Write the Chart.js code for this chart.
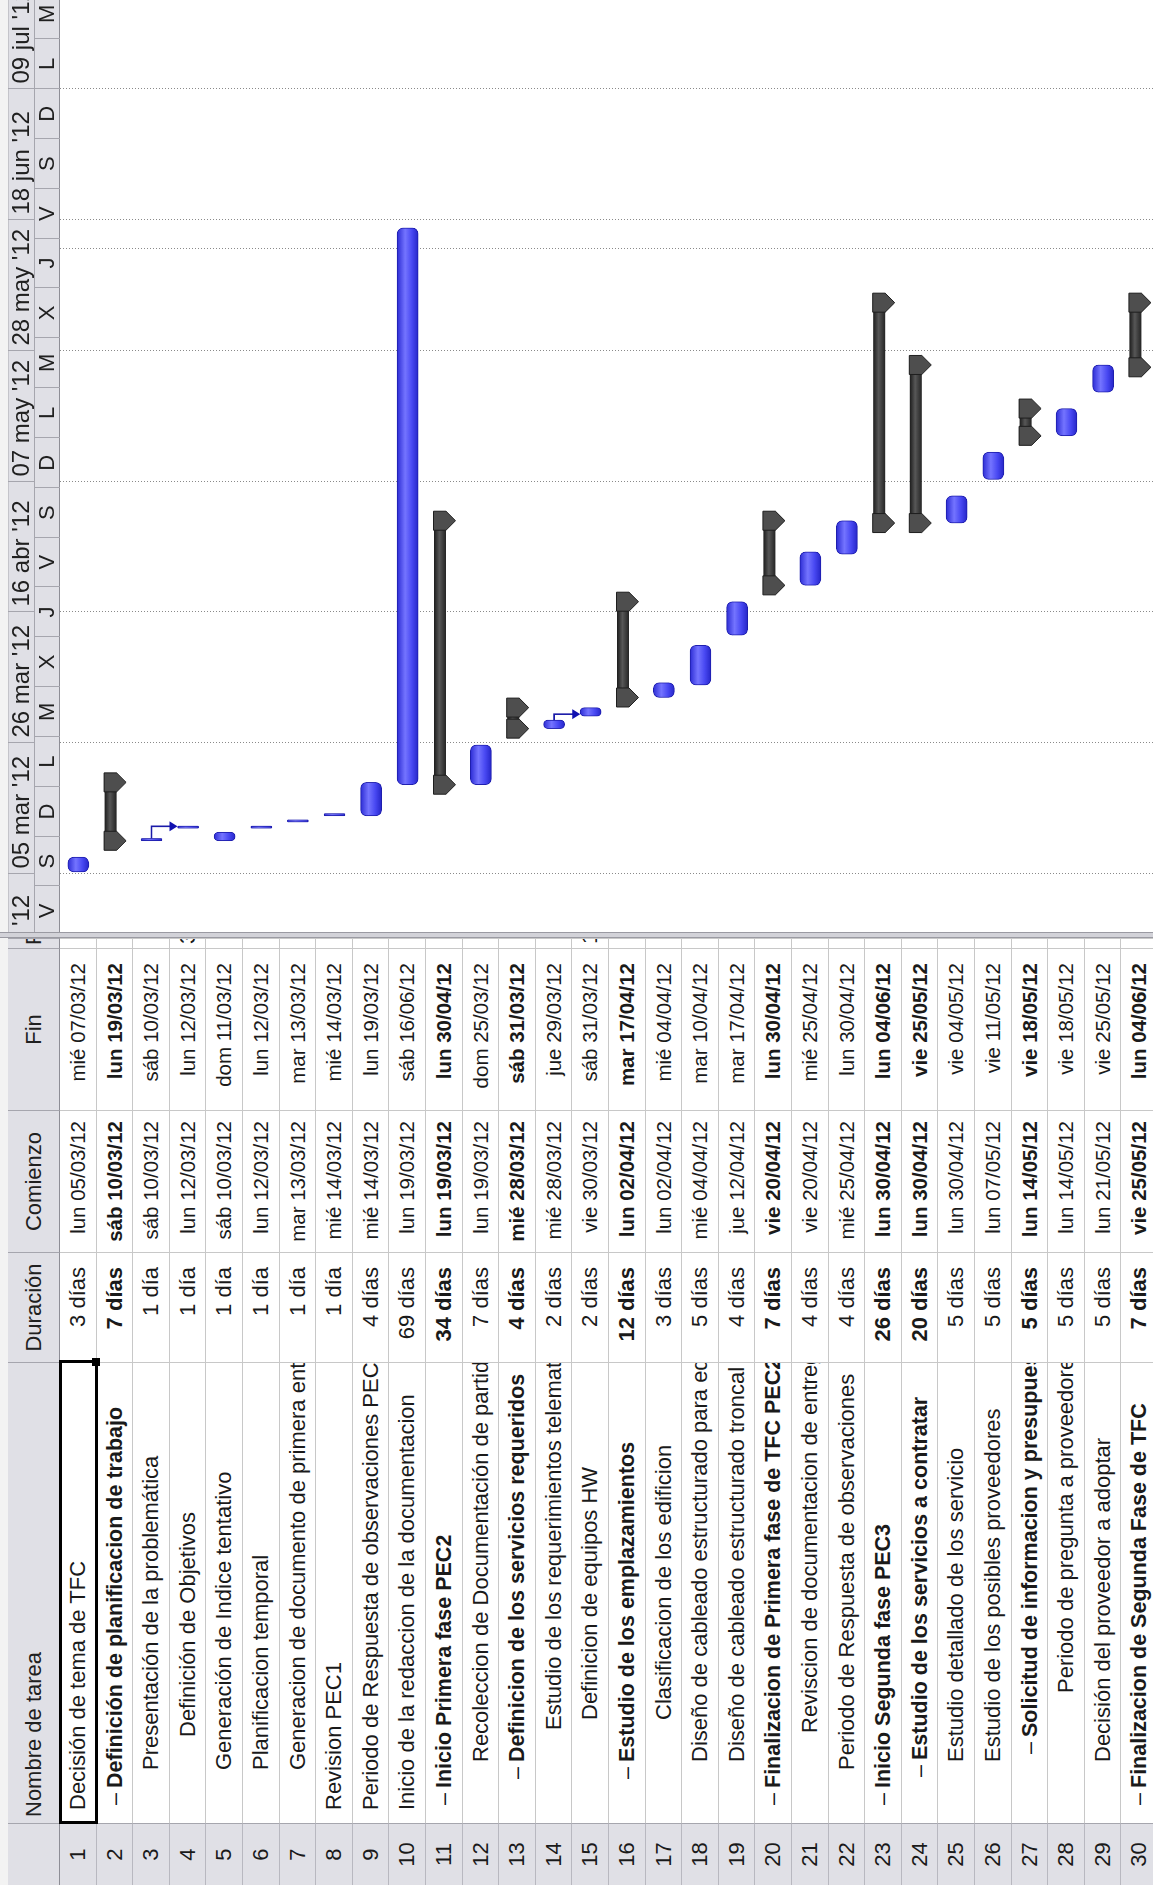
<!DOCTYPE html>
<html lang="es">
<head>
<meta charset="utf-8">
<title>Planificación TFC</title>
<script src="https://cdn.jsdelivr.net/npm/chart.js@4.4.1/dist/chart.umd.min.js"></script>
<style>
  html, body { margin:0; padding:0; width:1153px; height:1885px; overflow:hidden; background:#fff; }
  /* the project view is laid out landscape and turned a quarter turn */
  #sheet { position:absolute; left:0; top:0; width:1885px; height:1153px; overflow:hidden;
           transform-origin:0 0; transform:translateY(1885px) rotate(-90deg);
           background:#fff; font-family:"Liberation Sans", Arial, sans-serif; color:#1a1a1a; }
  .cell { position:absolute; box-sizing:border-box; white-space:nowrap; overflow:hidden;
          border-right:1px solid #c8c8c8; border-bottom:1px solid #c8c8c8; font-size:22px; }
  .head { background:#e0e0e6; border-right:1px solid #a6a6ae; border-bottom:1px solid #8e8e96;
          text-align:center; color:#202020; }
  .num  { background:#e0e0e6; text-align:center; border-right:1px solid #a6a6ae; border-bottom:1px solid #b8b8c0; }
  .bold { font-weight:bold; }
  .name.bold { font-size:21.5px; }
  .dash { position:absolute; }
  #strip { position:absolute; left:0; top:0; width:1885px; height:8px; background:#f3f3f3; }
  #split { position:absolute; left:947px; top:0; width:6px; height:1153px; background:#d2d2d8;
           border-left:1px solid #9a9aa2; border-right:1px solid #9a9aa2; box-sizing:border-box; }
  #sel { position:absolute; box-sizing:border-box; border:3px solid #000; }
  #handle { position:absolute; width:8px; height:8px; background:#000; }
  #gantt { position:absolute; left:953px; top:0; }
</style>
</head>
<body>
<div id="sheet">
  <div id="strip"></div>
  <canvas id="gantt" width="932" height="1158"></canvas>
  <div id="split"></div>
</div>
<script>
// ---------- project data ----------
const TASK_NAMES = [
  'Decisión de tema de TFC',
  'Definición de planificacion de trabajo',
  'Presentación de la problemática',
  'Definición de Objetivos',
  'Generación de Indice tentativo',
  'Planificacion temporal',
  'Generacion de documento de primera entrega',
  'Revision PEC1',
  'Periodo de Respuesta de observaciones PEC1',
  'Inicio de la redaccion de la documentacion',
  'Inicio Primera fase PEC2',
  'Recoleccion de Documentación de partida',
  'Definicion de los servicios requeridos',
  'Estudio de los requerimientos telematicos',
  'Definicion de equipos HW',
  'Estudio de los emplazamientos',
  'Clasificacion de los edificion',
  'Diseño de cableado estructurado para edificios',
  'Diseño de cableado estructurado troncal',
  'Finalizacion de Primera fase de TFC PEC2',
  'Reviscion de documentacion de entrega',
  'Periodo de Respuesta de observaciones',
  'Inicio Segunda fase PEC3',
  'Estudio de los servicios a contratar',
  'Estudio detallado de los servicio',
  'Estudio de los posibles proveedores',
  'Solicitud de informacion y presupuestos',
  'Periodo de pregunta a proveedores',
  'Decisión del proveedor a adoptar',
  'Finalizacion de Segunda Fase de TFC'
];
const DURATION_DAYS = [3, 7, 1, 1, 1, 1, 1, 1, 4, 69, 34, 7, 4, 2, 2, 12, 3, 5, 4, 7, 4, 4, 26, 20, 5, 5, 5, 5, 5, 7];
const START_DATES = [
  '2012-03-05', '2012-03-10', '2012-03-10', '2012-03-12', '2012-03-10', '2012-03-12',
  '2012-03-13', '2012-03-14', '2012-03-14', '2012-03-19', '2012-03-19', '2012-03-19',
  '2012-03-28', '2012-03-28', '2012-03-30', '2012-04-02', '2012-04-02', '2012-04-04',
  '2012-04-12', '2012-04-20', '2012-04-20', '2012-04-25', '2012-04-30', '2012-04-30',
  '2012-04-30', '2012-05-07', '2012-05-14', '2012-05-14', '2012-05-21', '2012-05-25'
];
const END_DATES = [
  '2012-03-07', '2012-03-19', '2012-03-10', '2012-03-12', '2012-03-11', '2012-03-12',
  '2012-03-13', '2012-03-14', '2012-03-19', '2012-06-16', '2012-04-30', '2012-03-25',
  '2012-03-31', '2012-03-29', '2012-03-31', '2012-04-17', '2012-04-04', '2012-04-10',
  '2012-04-17', '2012-04-30', '2012-04-25', '2012-04-30', '2012-06-04', '2012-05-25',
  '2012-05-04', '2012-05-11', '2012-05-18', '2012-05-18', '2012-05-25', '2012-06-04'
];
const SUMMARY_ROWS = [2, 11, 13, 16, 20, 23, 24, 27, 30];
const LINKS = [[3, 4], [14, 15]];               // predecessor -> successor (row numbers)
const PREDECESSORS = { 4: '3', 15: '14' };

// timescale tiers
const MAJOR_TICKS  = ['2012-02-13', '2012-03-05', '2012-03-26', '2012-04-16', '2012-05-07', '2012-05-28', '2012-06-18', '2012-07-09'];
const MAJOR_LABELS = ["13 feb '12", "05 mar '12", "26 mar '12", "16 abr '12", "07 may '12", "28 may '12", "18 jun '12", "09 jul '12"];
const MINOR_TICKS  = ['2012-02-24', '2012-03-03', '2012-03-11', '2012-03-19', '2012-03-27', '2012-04-04', '2012-04-12',
                      '2012-04-20', '2012-04-28', '2012-05-06', '2012-05-14', '2012-05-22', '2012-05-30', '2012-06-07',
                      '2012-06-15', '2012-06-23', '2012-07-01', '2012-07-09', '2012-07-17', '2012-07-25'];
const CURRENT_DATE = '2012-06-13';

// ---------- layout ----------
const ROW_TOP = 60, ROW_H = 36.6, HEAD_TOP = 8;
const WORK_START = 8 / 24, WORK_END = 17 / 24;
const TEXT_X = [75, 97, 115, 148, 115, 115, 115, 75, 75, 75, 97, 123, 123, 155, 165, 123, 165, 123, 123, 97,
                152, 115, 97, 125, 123, 123, 148, 192, 123, 97];
const COLS = [
  { key: 'num',   left: 0,   width: 62,  title: '',                align: 'center', pad: 0 },
  { key: 'name',  left: 62,  width: 461, title: 'Nombre de tarea', align: 'left',   pad: 0 },
  { key: 'dur',   left: 523, width: 110, title: 'Duración',        align: 'right',  pad: 14 },
  { key: 'start', left: 633, width: 142, title: 'Comienzo',        align: 'right',  pad: 10 },
  { key: 'end',   left: 775, width: 162, title: 'Fin',             align: 'right',  pad: 14 },
  { key: 'pred',  left: 937, width: 10,  title: 'Predecesoras',    align: 'left',   pad: 4 }
];

const DAY0 = Date.UTC(2012, 2, 5);
function dayNum(s) {
  const [y, m, d] = s.split('-').map(Number);
  return (Date.UTC(y, m - 1, d) - DAY0) / 86400000;
}
const WEEKDAYS = ['dom', 'lun', 'mar', 'mié', 'jue', 'vie', 'sáb'];
const WEEK_INITIALS = ['D', 'L', 'M', 'X', 'J', 'V', 'S'];
function weekday(s) { const [y, m, d] = s.split('-').map(Number); return new Date(Date.UTC(y, m - 1, d)).getUTCDay(); }
function fmtDate(s) { const [y, m, d] = s.split('-'); return `${WEEKDAYS[weekday(s)]} ${d}/${m}/${y.slice(2)}`; }
function fmtDur(n) { return `${n} ${n === 1 ? 'día' : 'días'}`; }
const isSummary = i => SUMMARY_ROWS.includes(i + 1);

// ---------- task table ----------
const sheet = document.getElementById('sheet');
function addCell(cls, left, top, width, height, text, align, pad, extra) {
  const el = document.createElement('div');
  el.className = 'cell ' + cls;
  Object.assign(el.style, {
    left: left + 'px', top: top + 'px', width: width + 'px', height: height + 'px',
    lineHeight: height + 'px', textAlign: align
  });
  if (align === 'right') el.style.paddingRight = pad + 'px';
  if (align === 'left') el.style.paddingLeft = pad + 'px';
  if (extra) Object.assign(el.style, extra);
  el.textContent = text;
  sheet.appendChild(el);
  return el;
}
COLS.forEach(c => {
  addCell('head', c.left, HEAD_TOP, c.width, ROW_TOP - HEAD_TOP, c.title,
          c.key === 'name' || c.key === 'pred' ? 'left' : 'center', c.key === 'name' ? 6 : 3);
});
TASK_NAMES.forEach((name, i) => {
  const top = ROW_TOP + i * ROW_H;
  const bold = isSummary(i) ? 'bold' : '';
  COLS.forEach(c => {
    let text = '';
    let pad = c.pad;
    let cls = bold;
    if (c.key === 'num') { text = String(i + 1); cls = 'num'; }
    if (c.key === 'name') { text = name; pad = TEXT_X[i] - c.left; cls = 'name ' + bold; }
    if (c.key === 'dur') text = fmtDur(DURATION_DAYS[i]);
    if (c.key === 'start') text = fmtDate(START_DATES[i]);
    if (c.key === 'end') text = fmtDate(END_DATES[i]);
    if (c.key === 'pred') { text = PREDECESSORS[i + 1] || ''; cls = ''; }
    const el = addCell(cls, c.left, top, c.width, ROW_H, text, c.align, pad,
                       c.key === 'start' || c.key === 'end' ? { fontSize: '20.5px' } : null);
    if (c.key === 'name' && isSummary(i)) {
      const d = document.createElement('span');
      d.className = 'dash';
      d.textContent = '–';
      d.style.left = (TEXT_X[i] - 17 - c.left) + 'px';
      d.style.fontWeight = 'normal';
      el.appendChild(d);
    }
  });
});
// active cell frame on the first task name
const sel = document.createElement('div');
sel.id = 'sel';
Object.assign(sel.style, { left: '61px', top: (ROW_TOP - 1) + 'px', width: '464px', height: (ROW_H + 2) + 'px' });
sheet.appendChild(sel);
const handle = document.createElement('div');
handle.id = 'handle';
Object.assign(handle.style, { left: '519px', top: (ROW_TOP + ROW_H - 5) + 'px' });
sheet.appendChild(handle);

// ---------- gantt ----------
const labels = TASK_NAMES.map((_, i) => String(i + 1));
const taskBars = TASK_NAMES.map((_, i) => isSummary(i) ? null :
  [dayNum(START_DATES[i]) + WORK_START, dayNum(END_DATES[i]) + WORK_END]);
const summaryBars = TASK_NAMES.map((_, i) => isSummary(i) ?
  [dayNum(START_DATES[i]) + WORK_START, dayNum(END_DATES[i]) + WORK_END] : null);

const VIEW_MIN = dayNum('2012-02-24') + 0.69;
const VIEW_MAX = dayNum('2012-07-23') + 0.29;

function taskFill(c) {
  const chart = c.chart;
  if (c.type !== 'data' || !chart.chartArea) return '#4646ee';
  const y = chart.scales.y.getPixelForValue(c.dataIndex);
  const g = chart.ctx.createLinearGradient(0, y - 10.5, 0, y + 10.5);
  g.addColorStop(0, '#2c2cd4');
  g.addColorStop(0.38, '#7474ff');
  g.addColorStop(0.7, '#4848f2');
  g.addColorStop(1, '#2626c8');
  return g;
}

const FONT = '"Liberation Sans", Arial, sans-serif';
const ganttDecor = {
  id: 'ganttDecor',
  beforeDatasetsDraw(chart) {
    const { ctx, chartArea: a, scales: { x } } = chart;
    ctx.save();
    ctx.strokeStyle = '#8a8a8a';
    ctx.lineWidth = 1;
    ctx.setLineDash([1, 2]);
    const lines = MAJOR_TICKS.map(dayNum).concat([dayNum(CURRENT_DATE) + WORK_START]);
    lines.forEach(d => {
      const px = Math.round(x.getPixelForValue(d)) + 0.5;
      if (px < a.left || px > a.right) return;
      ctx.beginPath(); ctx.moveTo(px, a.top); ctx.lineTo(px, a.bottom); ctx.stroke();
    });
    ctx.restore();
  },
  afterDatasetsDraw(chart) {
    const { ctx, scales: { x, y } } = chart;
    const rowH = y.getPixelForValue(1) - y.getPixelForValue(0);
    ctx.save();
    // summary bars with their end caps
    summaryBars.forEach((v, i) => {
      if (!v) return;
      const x1 = x.getPixelForValue(v[0]), x2 = x.getPixelForValue(v[1]);
      const top = y.getPixelForValue(i) - rowH / 2;
      const g = ctx.createLinearGradient(0, top + 8, 0, top + 20);
      g.addColorStop(0, '#1c1c1c'); g.addColorStop(0.45, '#575757'); g.addColorStop(1, '#242424');
      ctx.fillStyle = g;
      ctx.fillRect(x1, top + 8, x2 - x1, 12);
      [x1, x2].forEach(cx => {
        ctx.beginPath();
        ctx.moveTo(cx - 9.5, top + 7.5);
        ctx.lineTo(cx + 9.5, top + 7.5);
        ctx.lineTo(cx + 9.5, top + 20);
        ctx.lineTo(cx, top + 29.5);
        ctx.lineTo(cx - 9.5, top + 20);
        ctx.closePath();
        ctx.fillStyle = '#4e4e4e';
        ctx.fill();
        ctx.lineWidth = 1;
        ctx.strokeStyle = '#1e1e1e';
        ctx.stroke();
      });
    });
    // finish-to-start links
    ctx.strokeStyle = '#1a1aa8';
    ctx.fillStyle = '#1010b0';
    ctx.lineWidth = 1.6;
    LINKS.forEach(([p, s]) => {
      const pi = p - 1, si = s - 1;
      const xs = x.getPixelForValue(taskBars[pi][1]);
      const xe = x.getPixelForValue(taskBars[si][0]) + 2;
      const ys = y.getPixelForValue(pi);
      const ye = y.getPixelForValue(si) - 10.5;
      ctx.beginPath(); ctx.moveTo(xs, ys); ctx.lineTo(xe, ys); ctx.lineTo(xe, ye - 7); ctx.stroke();
      ctx.beginPath(); ctx.moveTo(xe - 5, ye - 8); ctx.lineTo(xe + 5, ye - 8); ctx.lineTo(xe, ye); ctx.closePath(); ctx.fill();
    });
    ctx.restore();
  },
  afterDraw(chart) {
    const { ctx, scales: { x } } = chart;
    const W = chart.width, top = HEAD_TOP, mid = 34, bot = ROW_TOP;
    ctx.save();
    ctx.fillStyle = '#f3f3f3'; ctx.fillRect(0, 0, W, top);
    ctx.fillStyle = '#e0e0e6'; ctx.fillRect(0, top, W, bot - top);
    ctx.strokeStyle = '#a6a6ae'; ctx.lineWidth = 1;
    ctx.beginPath(); ctx.moveTo(0, mid + 0.5); ctx.lineTo(W, mid + 0.5); ctx.stroke();
    ctx.strokeStyle = '#8e8e96';
    ctx.beginPath(); ctx.moveTo(0, bot - 0.5); ctx.lineTo(W, bot - 0.5); ctx.stroke();
    ctx.beginPath(); ctx.moveTo(0, top + 0.5); ctx.lineTo(W, top + 0.5); ctx.strokeStyle = '#c4c4ca'; ctx.stroke();
    ctx.fillStyle = '#202020';
    ctx.textBaseline = 'middle';
    ctx.strokeStyle = '#a6a6ae';
    ctx.font = '24px ' + FONT;
    MAJOR_TICKS.forEach((d, i) => {
      const px = Math.round(x.getPixelForValue(dayNum(d))) + 0.5;
      ctx.beginPath(); ctx.moveTo(px, top); ctx.lineTo(px, mid); ctx.stroke();
      ctx.textAlign = 'left';
      ctx.fillText(MAJOR_LABELS[i], px + 5, (top + mid) / 2 + 1);
    });
    ctx.font = '22px ' + FONT;
    MINOR_TICKS.forEach((d, i) => {
      const px = Math.round(x.getPixelForValue(dayNum(d))) + 0.5;
      ctx.beginPath(); ctx.moveTo(px, mid); ctx.lineTo(px, bot); ctx.stroke();
      const nx = x.getPixelForValue(dayNum(d) + 8);
      ctx.textAlign = 'center';
      ctx.fillText(WEEK_INITIALS[weekday(d)], (px + nx) / 2, (mid + bot) / 2 + 1);
    });
    ctx.restore();
  }
};

new Chart(document.getElementById('gantt'), {
  type: 'bar',
  data: {
    labels,
    datasets: [
      { label: 'Tareas', data: taskBars, barThickness: 21, grouped: false,
        backgroundColor: taskFill, borderColor: '#1e1eae', borderWidth: 1,
        borderRadius: 6, borderSkipped: false },
      { label: 'Resumen', data: summaryBars, barThickness: 12, grouped: false,
        backgroundColor: 'rgba(0,0,0,0)', borderWidth: 0 }
    ]
  },
  options: {
    indexAxis: 'y',
    responsive: false,
    animation: false,
    devicePixelRatio: 1,
    layout: { padding: { top: ROW_TOP, left: 0, right: 0, bottom: 0 } },
    scales: {
      x: { type: 'linear', min: VIEW_MIN, max: VIEW_MAX, display: false },
      y: { type: 'category', display: false, offset: true }
    },
    plugins: { legend: { display: false }, tooltip: { enabled: false } }
  },
  plugins: [ganttDecor]
});
</script>
</body>
</html>
